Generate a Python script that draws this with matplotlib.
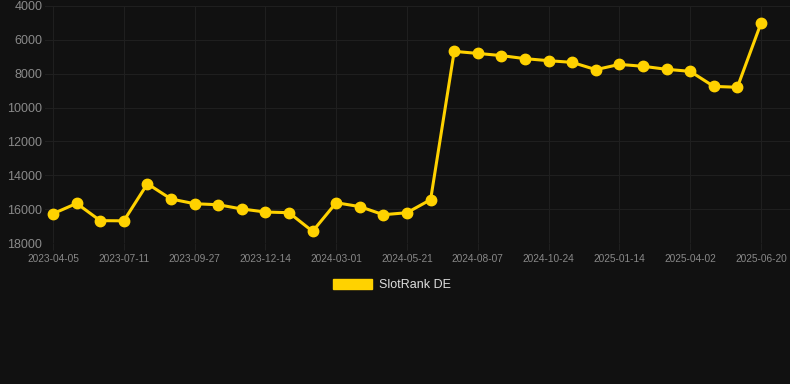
import matplotlib
matplotlib.use("Agg")
import matplotlib.pyplot as plt
from matplotlib.patches import Patch

tick_labels = ["2023-04-05", "2023-07-11", "2023-09-27", "2023-12-14", "2024-03-01",
               "2024-05-21", "2024-08-07", "2024-10-24", "2025-01-14", "2025-04-02",
               "2025-06-20"]
rank_values = [16270, 15660, 16680, 16690, 14500, 15400, 15680, 15740, 15990, 16170,
               16210, 17310, 15620, 15850, 16330, 16210, 15440, 6680, 6800, 6930,
               7110, 7230, 7330, 7760, 7450, 7560, 7740, 7860, 8750, 8800, 5020]
series_name = "SlotRank DE"

bg = "#111111"
gold = "#FFD200"
grid_c = "#1f1f1f"
plt.rcParams['font.family'] = ['Liberation Sans', 'DejaVu Sans']

fig = plt.figure(figsize=(7.9, 3.84), dpi=100, facecolor=bg)
ax = fig.add_axes([45/790, 141/384, 745/790, 237/384])
ax.set_facecolor(bg)

x = list(range(len(rank_values)))
ax.plot(x, rank_values, color=gold, linewidth=2.2, marker='o', markersize=7.5,
        markerfacecolor=gold, markeredgecolor=gold, zorder=3)

step = 3
ax.set_xticks(x[::step])
ax.set_xticklabels(tick_labels)
ax.set_xlim(-0.34, 31.23)
ax.set_ylim(18000, 4000)
ax.set_yticks(range(4000, 18001, 2000))

for s in ax.spines.values():
    s.set_visible(False)
ax.grid(True, color=grid_c, linewidth=0.8)
ax.tick_params(axis='x', colors="#888888", labelsize=7.3, length=5, color=grid_c, pad=3)
ax.tick_params(axis='y', colors="#8a8a8a", labelsize=9, length=0, pad=2)

handle = Patch(facecolor=gold, edgecolor=gold)
fig.legend([handle], [series_name], loc='center', bbox_to_anchor=(392/790, 1-285/384),
           frameon=False, fontsize=9, labelcolor="#dddddd", handlelength=3.1,
           handleheight=0.95, handletextpad=0.55)

fig.savefig("out.png", dpi=100, facecolor=bg)
